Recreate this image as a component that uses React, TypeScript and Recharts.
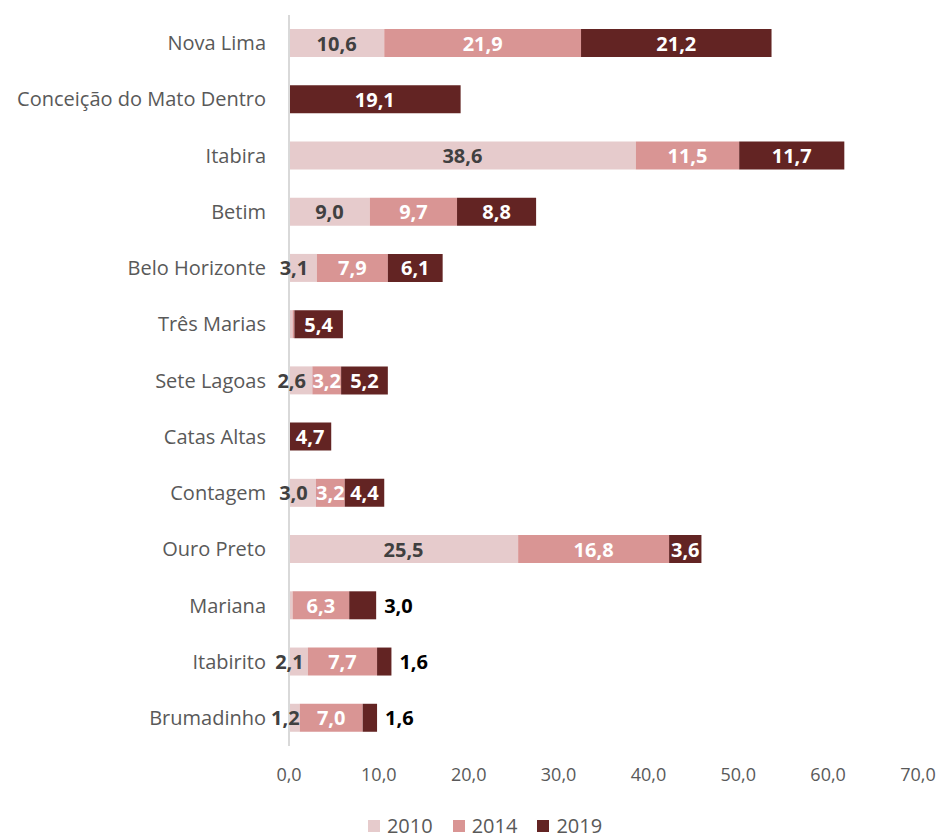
import { BarChart, Bar, XAxis, YAxis, Legend, LabelList } from 'recharts'

const CITIES = [
  'Nova Lima',
  'Conceição do Mato Dentro',
  'Itabira',
  'Betim',
  'Belo Horizonte',
  'Três Marias',
  'Sete Lagoas',
  'Catas Altas',
  'Contagem',
  'Ouro Preto',
  'Mariana',
  'Itabirito',
  'Brumadinho',
]
const V2010 = [10.6, 0, 38.6, 9.0, 3.1, 0.4, 2.6, 0, 3.0, 25.5, 0.4, 2.1, 1.2]
const V2014 = [21.9, 0, 11.5, 9.7, 7.9, 0.2, 3.2, 0, 3.2, 16.8, 6.3, 7.7, 7.0]
const V2019 = [21.2, 19.1, 11.7, 8.8, 6.1, 5.4, 5.2, 4.7, 4.4, 3.6, 3.0, 1.6, 1.6]
const X_TICKS = [0, 10, 20, 30, 40, 50, 60, 70]

const SERIES = [
  { key: 'y2010', name: '2010', color: '#e6cbcc', text: '#404040' },
  { key: 'y2014', name: '2014', color: '#d99594', text: '#ffffff' },
  { key: 'y2019', name: '2019', color: '#632423', text: '#ffffff' },
]

const data = CITIES.map((city, i) => ({
  city,
  y2010: V2010[i],
  y2014: V2014[i],
  y2019: V2019[i],
}))

const FONT = '"Open Sans", "Noto Sans", sans-serif'
const fmt = (v: number) => v.toFixed(1).replace('.', ',')

function makeLabel(color: string, outsideBelow = 0, narrowShift = 0) {
  return (props: any) => {
    const { x, y, width, height, value } = props
    if (value == null || value < 1) return null
    const cy = y + height / 2
    if (value < outsideBelow) {
      return (
        <text x={x + width + 8} y={cy} fill="#000" textAnchor="start" dominantBaseline="central"
          fontSize={20} fontWeight={700} fontFamily={FONT}>
          {fmt(value)}
        </text>
      )
    }
    const cx = x + width / 2 - (width < 30 ? narrowShift : 0)
    return (
      <text x={cx} y={cy} fill={color} textAnchor="middle" dominantBaseline="central"
        fontSize={20} fontWeight={700} fontFamily={FONT}>
        {fmt(value)}
      </text>
    )
  }
}

function LegendContent() {
  return (
    <div style={{ display: 'flex', justifyContent: 'center', fontFamily: FONT, fontSize: 20, color: '#595959', lineHeight: '22px', paddingLeft: 52 }}>
      {SERIES.map((s) => (
        <div key={s.key} style={{ display: 'flex', alignItems: 'center', margin: '0 10px' }}>
          <span style={{ display: 'inline-block', width: 12, height: 12, background: s.color, marginRight: 7 }} />
          <span>{s.name}</span>
        </div>
      ))}
    </div>
  )
}

export default function App() {
  return (
    <div style={{ position: 'absolute', left: 0, top: 0, background: '#fff' }}>
      <BarChart
        width={939}
        height={839}
        data={data}
        layout="vertical"
        barSize={28}
        margin={{ top: 15, right: 21, left: 0, bottom: 0 }}
      >
        <XAxis
          type="number"
          domain={[0, 70]}
          ticks={X_TICKS}
          tickFormatter={fmt}
          axisLine={false}
          tickLine={false}
          tickSize={0}
          tickMargin={22}
          height={71}
          tick={{ fill: '#595959', fontSize: 18, fontFamily: FONT }}
        />
        <YAxis
          type="category"
          dataKey="city"
          width={289}
          axisLine={{ stroke: '#d9d9d9', strokeWidth: 2 }}
          tickLine={false}
          tickSize={0}
          tickMargin={23}
          interval={0}
          tick={{ fill: '#595959', fontSize: 20, fontFamily: FONT }}
        />
        <Legend verticalAlign="bottom" height={22} wrapperStyle={{ bottom: 2 }} content={<LegendContent />} />
        <Bar dataKey="y2010" name="2010" stackId="a" fill={SERIES[0].color} isAnimationActive={false}>
          <LabelList dataKey="y2010" content={makeLabel(SERIES[0].text, 0, 9)} />
        </Bar>
        <Bar dataKey="y2014" name="2014" stackId="a" fill={SERIES[1].color} isAnimationActive={false}>
          <LabelList dataKey="y2014" content={makeLabel(SERIES[1].text)} />
        </Bar>
        <Bar dataKey="y2019" name="2019" stackId="a" fill={SERIES[2].color} isAnimationActive={false}>
          <LabelList dataKey="y2019" content={makeLabel(SERIES[2].text, 3.2)} />
        </Bar>
      </BarChart>
    </div>
  )
}
